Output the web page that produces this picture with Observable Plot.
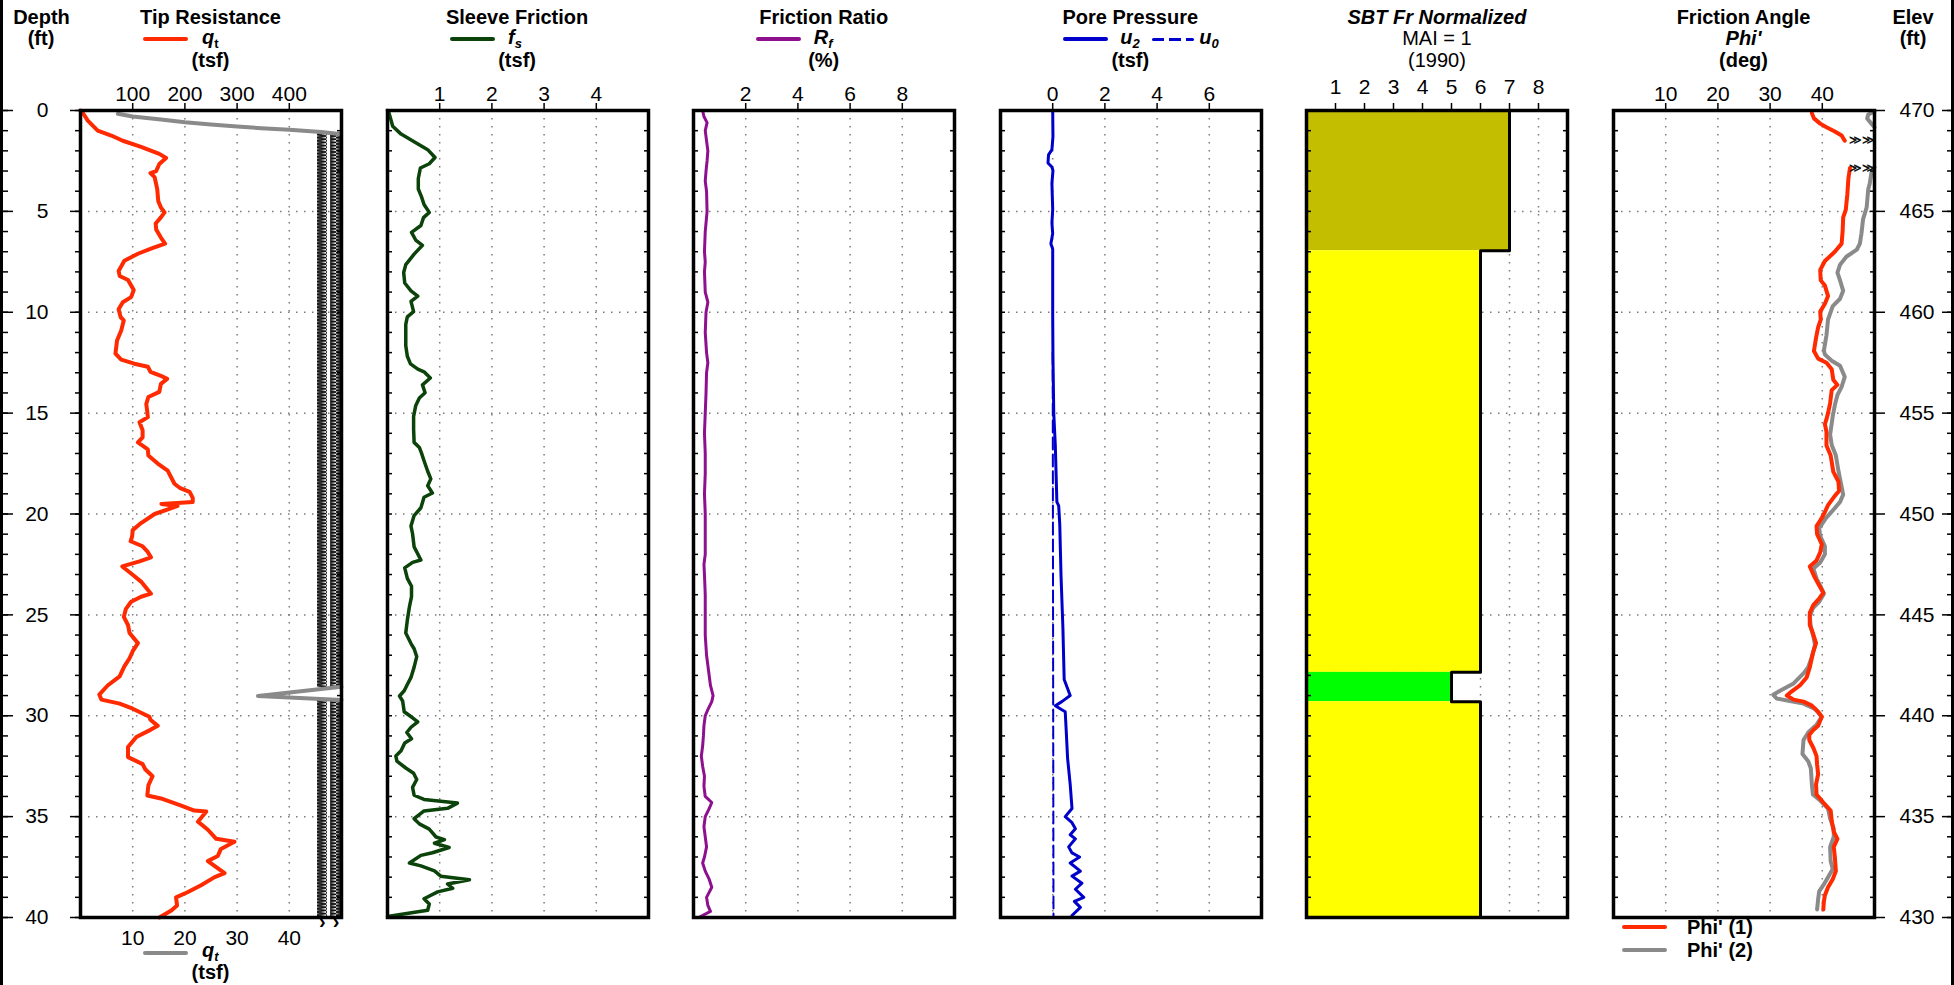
<!DOCTYPE html>
<html><head><meta charset="utf-8">
<script src="https://cdn.jsdelivr.net/npm/d3@7"></script>
<script src="https://cdn.jsdelivr.net/npm/@observablehq/plot@0.6"></script>
<style>
html,body{margin:0;padding:0;background:#fff;}
#chart{position:relative;width:1954px;height:985px;overflow:hidden;background:#fff;font-family:"Liberation Sans",Arial,Helvetica,sans-serif;color:#000;}
.abs{position:absolute;white-space:nowrap;line-height:1;}
.sub{font-size:13px;position:relative;top:4px;}
.edge{position:absolute;top:0;width:3px;height:985px;background:#000;}
.sw{position:absolute;}
</style></head>
<body><div id="chart"></div>
<script>
// ---------------- DATA ----------------
const panelTitles = ["Tip Resistance","Sleeve Friction","Friction Ratio","Pore Pressure","SBT Fr Normalized","Friction Angle"];
const depthTicks = [0,5,10,15,20,25,30,35,40];
const elevTicks = [470,465,460,455,450,445,440,435,430];
const footTicks = d3.range(0,41,1);
const gridDepths = [5,10,15,20,25,30,35];

const qtTicks = [100,200,300,400];
const qt2TickLabels = ["10","20","30","40"];
const fsTicks = [1,2,3,4];
const rfTicks = [2,4,6,8];
const uTicks = [0,2,4,6];
const sbtTicks = [1,2,3,4,5,6,7,8];
const phiTicks = [10,20,30,40];

// Tip resistance qt (tsf), red, top scale
const qtDepth = [0,0.1,0.5,1.0,1.24,1.5,1.8,2.15,2.35,2.65,3.0,3.1,3.3,3.9,4.5,4.8,5.05,5.3,5.6,5.9,6.3,6.6,6.85,7.1,7.45,7.95,8.2,8.4,8.9,9.25,9.5,9.85,10.25,10.4,10.9,11.4,12.05,12.35,12.55,12.7,12.95,13.15,13.3,13.55,13.95,14.2,14.55,14.95,15.2,15.45,15.85,16.2,16.45,16.8,17.1,17.5,17.85,18.5,18.7,18.9,19.2,19.4,19.5,19.6,20.0,20.45,20.8,21.1,21.35,21.6,21.85,22.15,22.35,22.6,22.95,23.35,23.95,24.1,24.35,24.7,25.1,25.5,25.9,26.4,26.8,27.15,27.55,28.05,28.5,28.95,29.2,29.4,29.65,30.05,30.2,30.5,30.7,31.05,31.55,32.05,32.4,32.65,33.0,33.45,33.95,34.1,34.45,34.7,34.75,35.25,35.65,36.1,36.25,36.6,36.95,37.2,37.8,38.0,38.4,38.75,39.0,39.4,39.65,40.0];
const qtTip   = [0,4,14,33,59,81,116,151,164,151,145,134,142,147,149,154,161,154,144,145,154,162,135,110,84,73,75,91,102,97,81,73,77,83,78,70,67,78,103,129,134,154,166,154,151,130,126,128,129,113,119,119,110,129,130,148,167,180,190,209,215,215,155,186,142,116,100,99,96,119,128,135,113,80,97,116,135,116,97,87,83,91,94,110,100,94,84,75,52,36,40,75,100,132,134,148,134,107,91,91,119,124,138,130,128,154,193,218,241,225,244,260,295,269,263,244,276,257,231,205,183,185,174,151];

// Tip resistance qt (tsf), grey, bottom scale 0-50 (NaN = off scale)
const qt2Depth = [0.165,0.30,0.45,0.58,0.69,0.79,0.88,0.96,1.07,1.16,1.17,28.56,29.02,29.22];
const qt2Tip   = [7.15,10.0,15.4,20.0,25.0,30.0,34.6,40.0,46.1,49.6,NaN,50,34,50];
// off-scale (clipped) bands for grey qt
const clipBandLo = [45.4,47.9];
const clipBandHi = [47.3,50];
const clipDepthTop = [1.15,29.25];
const clipDepthBot = [28.6,40];

// Sleeve friction fs (tsf)
const fsDepth = [0,0.13,0.78,1.17,1.55,1.94,2.33,2.64,2.85,3.37,3.89,4.27,4.66,5.05,5.31,5.7,6.04,6.42,6.68,7.12,7.64,8.03,8.55,8.94,9.2,9.46,9.97,10.23,10.6,11.66,12.18,12.56,12.82,12.95,13.26,13.6,13.99,14.25,14.64,15.16,15.8,16.45,16.7,16.97,17.36,17.88,18.26,18.6,18.96,19.17,19.69,20.08,20.6,20.98,21.63,22.28,22.4,22.67,23.19,23.58,24.1,24.6,25.26,25.9,26.42,26.68,27.07,27.59,28.1,28.5,28.76,29.02,29.27,29.8,30.1,30.3,30.57,30.83,31.14,31.35,31.74,31.99,32.25,32.59,32.85,33.16,33.55,33.94,34.15,34.33,34.59,34.72,35.1,35.36,35.62,36.01,36.14,36.32,36.53,36.79,36.92,37.3,37.44,37.69,37.95,38.13,38.34,38.55,38.73,39.07,39.33,39.64,39.95];
const fsVal   = [0,0.03,0.1,0.26,0.51,0.77,0.91,0.8,0.63,0.59,0.59,0.65,0.7,0.8,0.69,0.64,0.46,0.54,0.67,0.51,0.35,0.31,0.33,0.45,0.58,0.45,0.5,0.38,0.35,0.35,0.38,0.44,0.58,0.7,0.82,0.67,0.72,0.61,0.54,0.5,0.5,0.51,0.61,0.65,0.7,0.77,0.83,0.77,0.86,0.7,0.64,0.51,0.45,0.48,0.51,0.64,0.48,0.33,0.38,0.46,0.46,0.42,0.38,0.35,0.45,0.51,0.56,0.51,0.45,0.37,0.32,0.23,0.29,0.32,0.48,0.58,0.45,0.37,0.46,0.33,0.26,0.16,0.18,0.35,0.5,0.56,0.48,0.51,0.7,1.34,1.15,0.7,0.51,0.61,0.8,0.93,1.09,0.9,1.18,0.86,0.64,0.42,0.64,0.9,1.02,1.57,1.15,1.25,0.96,0.7,0.8,0.77,0.0];

// Friction ratio Rf (%)
const rfDepth = [0,0.3,0.6,1.0,1.5,2.0,2.5,3.0,3.5,4.0,5.0,6.0,7.0,7.5,8.0,9.0,9.5,10.0,11.0,12.0,12.5,13.0,14.0,15.0,16.0,17.0,18.0,19.0,20.0,21.0,22.0,22.5,23.0,24.0,25.0,26.0,27.0,27.5,28.0,28.5,29.0,29.3,29.7,30.0,30.5,31.0,31.5,32.0,32.5,33.0,33.5,34.0,34.3,34.6,35.0,35.5,36.0,36.5,37.0,37.3,37.7,38.1,38.5,39.0,39.4,39.7,40.0];
const rfVal   = [0.35,0.4,0.52,0.45,0.5,0.55,0.52,0.48,0.45,0.5,0.52,0.45,0.42,0.45,0.42,0.45,0.55,0.48,0.45,0.5,0.55,0.5,0.48,0.45,0.42,0.45,0.45,0.42,0.45,0.45,0.45,0.4,0.42,0.45,0.45,0.45,0.5,0.55,0.6,0.65,0.75,0.7,0.55,0.45,0.4,0.38,0.35,0.3,0.35,0.42,0.4,0.45,0.7,0.6,0.45,0.4,0.45,0.5,0.42,0.35,0.45,0.6,0.7,0.5,0.55,0.65,0.2];

// Pore pressure u2, u0 (tsf)
const u2Depth = [0,1.3,1.94,2.2,2.6,2.8,2.98,3.6,4.9,5.57,6.1,6.6,6.87,10.1,12.2,15.0,16.6,19.4,19.6,20.5,23.1,25.6,28.2,29.0,29.3,29.5,29.7,29.8,30.8,32.1,33.4,34.6,35.0,35.3,35.6,35.9,36.1,36.5,36.8,37.0,37.3,37.7,37.95,38.3,38.6,39.0,39.2,39.5,39.9];
const u2Val   = [0,0.01,-0.03,-0.16,-0.18,-0.03,0.01,-0.03,0,-0.03,0,-0.07,0,0,0.01,0.04,0.1,0.16,0.23,0.27,0.32,0.39,0.44,0.67,0.35,0.1,0.35,0.48,0.52,0.57,0.67,0.74,0.48,0.74,0.87,0.67,0.87,0.61,0.74,1.03,0.67,1.06,0.74,1.12,0.87,1.19,0.83,1.06,0.74];
const u0Depth = [12,40];
const u0Val   = [0,0.03];

// SBT zones (Robertson 1990)
const sbtTop    = [0,6.95,27.85,29.3];
const sbtBottom = [6.95,27.85,29.3,40];
const sbtZone   = [7,6,5,6];
const sbtColor  = ["#c4be00","#ffff00","#00ff00","#ffff00"];

// Friction angle phi' (deg)
const phi1Depth = [0.13,0.39,0.65,0.83,1.04,1.24,1.5,1.6,2.85,3.37,4.15,4.92,5.3,5.96,6.6,7.0,7.46,7.9,8.42,8.68,9.2,9.58,9.97,10.36,10.75,11.27,11.92,12.3,12.5,12.82,13.34,13.6,13.86,14.5,15.0,15.3,15.55,15.93,16.6,17.1,17.9,18.4,18.86,19.1,19.56,19.9,20.2,20.6,21.0,21.5,21.9,22.3,22.6,23.06,23.45,23.9,24.2,24.5,24.9,25.5,25.9,26.4,26.9,27.6,28.1,28.5,28.8,29.0,29.2,29.3,29.5,29.8,30.05,30.5,30.7,30.96,31.2,31.6,32.0,32.4,32.9,33.4,33.9,34.3,34.7,35.2,35.75,36.1,36.5,37.0,37.7,38.1,38.5,38.9,39.2,39.6];
const phi1Val   = [38.0,38.4,39.6,40.8,42.4,43.7,44.3,NaN,45.3,45.0,44.8,44.5,44.0,43.9,43.7,42.4,40.5,39.6,39.7,40.5,41.1,40.5,39.6,39.7,39.2,38.8,38.4,39.2,40.8,41.8,42.1,42.9,41.8,41.5,41.1,40.8,40.5,40.8,40.8,41.6,42.1,43.1,43.2,42.4,41.1,40.5,39.9,38.9,39.0,39.9,39.6,38.9,37.6,38.4,39.2,40.2,39.4,38.3,37.6,37.6,38.2,38.8,38.2,37.6,37.0,35.7,34.1,33.2,34.5,36.4,38.0,39.2,39.9,39.2,38.3,37.5,37.5,38.3,38.9,39.0,39.2,38.8,38.9,40.2,41.6,41.8,42.2,42.9,42.2,42.4,42.6,42.0,41.1,40.5,40.3,40.2];
const phi2Depth = [0.05,0.2,0.4,0.65,0.83,0.9,2.8,3.1,3.6,3.9,4.8,5.4,6.1,6.6,6.9,7.25,7.64,8.03,8.42,8.94,9.33,9.7,10.36,11.14,11.9,12.1,12.4,12.65,13.2,13.7,14.1,14.6,15.15,16.06,16.58,17.1,17.88,18.65,19.04,19.4,19.8,20.2,20.7,21.1,21.6,22.0,22.4,22.7,23.2,23.6,23.96,24.35,24.66,25.1,25.6,26.2,26.5,27.07,27.6,27.9,28.4,28.76,28.96,29.15,29.27,29.4,29.66,30.05,30.44,30.83,31.2,31.9,32.25,32.6,33.4,33.9,34.2,34.6,35.1,35.6,36.0,36.5,37.2,37.6,38.0,38.4,38.7,39.1,39.6];
const phi2Val   = [50,48.8,48.6,49.4,50,NaN,50,49.4,49.1,48.8,48.5,47.8,47.5,47.2,46.6,44.6,43.4,42.9,43.4,44.0,43.4,42.0,41.1,40.8,40.3,40.5,41.8,43.4,44.3,43.7,42.9,42.4,42.0,41.5,41.8,42.6,43.1,43.7,44.0,43.4,42.1,40.7,39.4,39.6,40.5,40.5,39.6,38.3,38.9,39.7,40.3,39.4,38.2,37.6,37.8,38.4,38.6,38.0,37.3,36.4,34.5,31.9,30.6,31.3,33.8,36.4,38.6,39.9,38.9,37.3,36.4,36.2,37.3,37.8,38.0,38.2,39.6,41.1,41.5,42.2,42.2,41.5,41.6,42.0,41.1,40.2,39.4,39.2,39.0];
// off-scale markers (phi beyond plotted)
const phiClipDepth = [1.45,2.85,1.45,2.85];
const phiClipVal   = [46.4,46.4,48.9,48.9];

// ---------------- HELPERS ----------------
const zip = (ds, vs) => ds.map((d, i) => ({d, v: vs[i]}));
const chart = document.getElementById("chart");
const FONT = '"Liberation Sans", Arial, Helvetica, sans-serif';
const W = 261;
const panelLefts = [80, 386.6, 693.2, 999.8, 1306.4, 1613];
const GRID = {stroke: "#7a7a7a", strokeOpacity: 1, strokeWidth: 1.5, strokeDasharray: "1.5,6.5"};
const blank = () => "";

function mount(plot, left) {
  plot.style.position = "absolute";
  plot.style.left = left + "px";
  plot.style.top = "0px";
  plot.style.overflow = "visible";
  chart.appendChild(plot);
  return plot;
}
function panel(i, {xDomain, ticks, marks, ml = 14, mr = 14, innerLeft = true, innerRight = true, topPad = 2, extra = []}) {
  const m = [
    Plot.gridX(ticks, GRID),
    Plot.gridY(gridDepths, GRID),
    ...marks,
    innerLeft ? Plot.axisY(footTicks, {anchor: "left", tickSize: -5, tickFormat: blank, strokeWidth: 1.5, label: null}) : null,
    innerRight ? Plot.axisY(footTicks, {anchor: "right", tickSize: -5, tickFormat: blank, strokeWidth: 1.5, label: null}) : null,
    Plot.axisX(ticks, {anchor: "top", tickSize: 8, tickPadding: topPad, fontSize: 21, strokeWidth: 1.5, label: null}),
    ...extra,
    Plot.frame({stroke: "#000", strokeWidth: 3.5})
  ];
  const p = Plot.plot({
    width: W + ml + mr, height: 985,
    marginTop: 110, marginBottom: 68, marginLeft: ml, marginRight: mr,
    x: {domain: xDomain},
    y: {domain: [0, 40], reverse: true},
    color: {type: "identity"},
    style: {background: "transparent", fontFamily: FONT, fontSize: "21px", color: "#000", overflow: "visible"},
    marks: m
  });
  return mount(p, panelLefts[i] - ml);
}
function txt(html, x, base, {size = 20, bold = true, italic = false, anchor = "middle"} = {}) {
  const el = document.createElement("div");
  el.className = "abs";
  el.innerHTML = html;
  el.style.fontSize = size + "px";
  el.style.fontWeight = bold ? "bold" : "normal";
  el.style.fontStyle = italic ? "italic" : "normal";
  el.style.top = (base - 0.8465 * size) + "px";
  el.style.left = x + "px";
  if (anchor === "middle") el.style.transform = "translateX(-50%)";
  if (anchor === "end") el.style.transform = "translateX(-100%)";
  chart.appendChild(el);
}
function swatch(x1, x2, y, color, thick = 4, dash = false) {
  const el = document.createElement("div");
  el.className = "sw";
  el.style.left = x1 + "px";
  el.style.width = (x2 - x1) + "px";
  el.style.top = (y - thick / 2) + "px";
  el.style.height = thick + "px";
  el.style.borderRadius = "2px";
  el.style.background = dash ? `repeating-linear-gradient(to right, ${color} 0 12px, transparent 12px 17px)` : color;
  chart.appendChild(el);
}

// ---------------- EDGES / DEPTH AXIS ----------------
["0px", "1951px"].forEach(l => { const e = document.createElement("div"); e.className = "edge"; e.style.left = l; chart.appendChild(e); });

mount(Plot.plot({
  width: 66, height: 985, marginTop: 110, marginBottom: 68, marginLeft: 3, marginRight: 0,
  y: {domain: [0, 40], reverse: true},
  style: {background: "transparent", fontFamily: FONT, color: "#000", overflow: "visible"},
  marks: [
    Plot.axisY(footTicks, {anchor: "left", tickSize: -5, tickFormat: blank, strokeWidth: 1.5, label: null}),
    Plot.axisY(depthTicks, {anchor: "left", tickSize: -10, tickFormat: blank, strokeWidth: 1.5, label: null}),
    Plot.text(depthTicks, {y: d => d, text: d => String(d), frameAnchor: "right", dx: -18, textAnchor: "end", fontSize: 21})
  ]
}), 0);

mount(Plot.plot({
  width: 30, height: 985, marginTop: 110, marginBottom: 68, marginLeft: 0, marginRight: 3,
  y: {domain: [0, 40], reverse: true},
  style: {background: "transparent", fontFamily: FONT, color: "#000", overflow: "visible"},
  marks: [
    Plot.axisY(footTicks, {anchor: "right", tickSize: -5, tickFormat: blank, strokeWidth: 1.5, label: null}),
    Plot.axisY(depthTicks, {anchor: "right", tickSize: -10, tickFormat: blank, strokeWidth: 1.5, label: null})
  ]
}), 1924);

// ---------------- PANEL 1: TIP RESISTANCE ----------------
const clipRects = [];
clipBandLo.forEach((lo, i) => clipDepthTop.forEach((t, j) => clipRects.push({x1: lo * 10, x2: clipBandHi[i] * 10, y1: t, y2: clipDepthBot[j]})));
const p1 = panel(0, {
  xDomain: [0, 500], ticks: qtTicks, innerLeft: false, ml: 14,
  marks: [
    Plot.rect(clipRects, {x1: "x1", x2: "x2", y1: "y1", y2: "y2", fill: "url(#hatchQt)"}),
    Plot.text(clipBandLo.map((lo, i) => (lo + clipBandHi[i]) * 5), {x: d => d, y: () => 40, text: () => "›", dy: 4, fontSize: 20, fontWeight: "bold"}),
    Plot.line(zip(qt2Depth, qt2Tip), {x: r => r.v * 10, y: "d", stroke: "#8a8a8a", strokeWidth: 4}),
    Plot.line(zip(qtDepth, qtTip), {x: "v", y: "d", stroke: "#ff2a00", strokeWidth: 4})
  ],
  extra: [
    Plot.axisY(footTicks, {anchor: "left", tickSize: 5, tickFormat: blank, strokeWidth: 1.5, label: null}),
    Plot.axisY(depthTicks, {anchor: "left", tickSize: 10, tickFormat: blank, strokeWidth: 1.5, label: null}),
    Plot.axisX(qtTicks, {anchor: "bottom", tickSize: 0, tickPadding: 13, fontSize: 21, tickFormat: (d, i) => qt2TickLabels[i], label: null})
  ]
});
{
  const defs = d3.select(p1).insert("defs", ":first-child");
  const pat = defs.append("pattern").attr("id", "hatchQt").attr("patternUnits", "userSpaceOnUse").attr("width", 10).attr("height", 3.2);
  pat.append("rect").attr("width", 10).attr("height", 3.2).attr("fill", "#fff");
  pat.append("path").attr("d", "M-1,0 L10,1.6 L-1,3.2").attr("fill", "none").attr("stroke", "#111").attr("stroke-width", 1.5);
  pat.append("path").attr("d", "M4,0 L4,3.2").attr("fill", "none").attr("stroke", "#333").attr("stroke-width", 1.2);
}

// ---------------- PANEL 2: SLEEVE FRICTION ----------------
panel(1, {
  xDomain: [0, 5], ticks: fsTicks,
  marks: [Plot.line(zip(fsDepth, fsVal), {x: "v", y: "d", stroke: "#0b430b", strokeWidth: 3.5})]
});

// ---------------- PANEL 3: FRICTION RATIO ----------------
panel(2, {
  xDomain: [0, 10], ticks: rfTicks,
  marks: [Plot.line(zip(rfDepth, rfVal), {x: "v", y: "d", stroke: "#8e108e", strokeWidth: 3})]
});

// ---------------- PANEL 4: PORE PRESSURE ----------------
panel(3, {
  xDomain: [-2, 8], ticks: uTicks,
  marks: [
    Plot.line(zip(u0Depth, u0Val), {x: "v", y: "d", stroke: "#0000cc", strokeWidth: 2, strokeDasharray: "12,5"}),
    Plot.line(zip(u2Depth, u2Val), {x: "v", y: "d", stroke: "#0000cc", strokeWidth: 3})
  ]
});

// ---------------- PANEL 5: SBT ----------------
const sbtRows = sbtZone.map((z, i) => ({z, top: sbtTop[i], bottom: sbtBottom[i], color: sbtColor[i]}));
const sbtOutline = sbtRows.flatMap(r => [{x: r.z, y: r.top}, {x: r.z, y: r.bottom}]);
panel(4, {
  xDomain: [0, 9], ticks: sbtTicks, topPad: 9,
  marks: [
    Plot.rect(sbtRows, {x1: () => 0, x2: "z", y1: "top", y2: "bottom", fill: "color"}),
    Plot.line(sbtOutline, {x: "x", y: "y", stroke: "#000", strokeWidth: 3})
  ]
});

// ---------------- PANEL 6: FRICTION ANGLE ----------------
panel(5, {
  xDomain: [0, 50], ticks: phiTicks, mr: 50,
  marks: [
    Plot.line(zip(phi2Depth, phi2Val), {x: "v", y: "d", stroke: "#8a8a8a", strokeWidth: 4}),
    Plot.line(zip(phi1Depth, phi1Val), {x: "v", y: "d", stroke: "#ff2a00", strokeWidth: 4}),
    Plot.text(zip(phiClipDepth, phiClipVal), {x: "v", y: "d", text: () => "≫", fontSize: 12, fontWeight: "bold", fill: "#111"})
  ],
  extra: [
    Plot.axisY(depthTicks, {anchor: "right", tickSize: 10, tickPadding: 15, fontSize: 21, strokeWidth: 1.5, tickFormat: (d, i) => String(elevTicks[i]), label: null})
  ]
});

// ---------------- HEADER TEXT & LEGENDS ----------------
const centers = panelLefts.map(l => l + W / 2);
txt("Depth", 41.5, 24); txt("(ft)", 41, 45);
txt("Elev", 1913, 24); txt("(ft)", 1913, 45);
panelTitles.forEach((t, i) => txt(t, centers[i], 24, {italic: i === 4}));

// panel 1
swatch(centers[0] - 67.5, centers[0] - 22.5, 39, "#ff2a00");
txt('<i>q</i><span class="sub">t</span>', centers[0] - 8.5, 44, {anchor: "start"});
txt("(tsf)", centers[0], 67);
// panel 2
swatch(centers[1] - 67.5, centers[1] - 22.5, 39, "#0b430b");
txt('<i>f</i><span class="sub"><i>s</i></span>', centers[1] - 9, 44, {anchor: "start"});
txt("(tsf)", centers[1], 67);
// panel 3
swatch(centers[2] - 67.5, centers[2] - 22.5, 39, "#8e108e");
txt('<i>R</i><span class="sub"><i>f</i></span>', centers[2] - 10, 44, {anchor: "start"});
txt("(%)", centers[2], 67);
// panel 4
swatch(centers[3] - 67.5, centers[3] - 22.5, 39, "#0000cc");
txt('<i>u</i><span class="sub"><i>2</i></span>', centers[3] - 10, 44, {anchor: "start"});
swatch(centers[3] + 22, centers[3] + 64, 39, "#0000cc", 3, true);
txt('<i>u</i><span class="sub"><i>0</i></span>', centers[3] + 69, 44, {anchor: "start"});
txt("(tsf)", centers[3], 67);
// panel 5
txt("MAI = 1", centers[4], 45, {bold: false});
txt("(1990)", centers[4], 67, {bold: false});
// panel 6
txt("<i>Phi'</i>", centers[5], 45);
txt("(deg)", centers[5], 67);

// bottom legends
swatch(centers[0] - 67.5, centers[0] - 22.5, 953, "#8a8a8a");
txt('<i>q</i><span class="sub"><i>t</i></span>', centers[0] - 8.5, 957, {anchor: "start"});
txt("(tsf)", centers[0], 979);
swatch(1622, 1667, 927, "#ff2a00");
txt("Phi' (1)", 1687, 934, {anchor: "start"});
swatch(1622, 1667, 950, "#8a8a8a");
txt("Phi' (2)", 1687, 957, {anchor: "start"});
</script>
</body></html>
